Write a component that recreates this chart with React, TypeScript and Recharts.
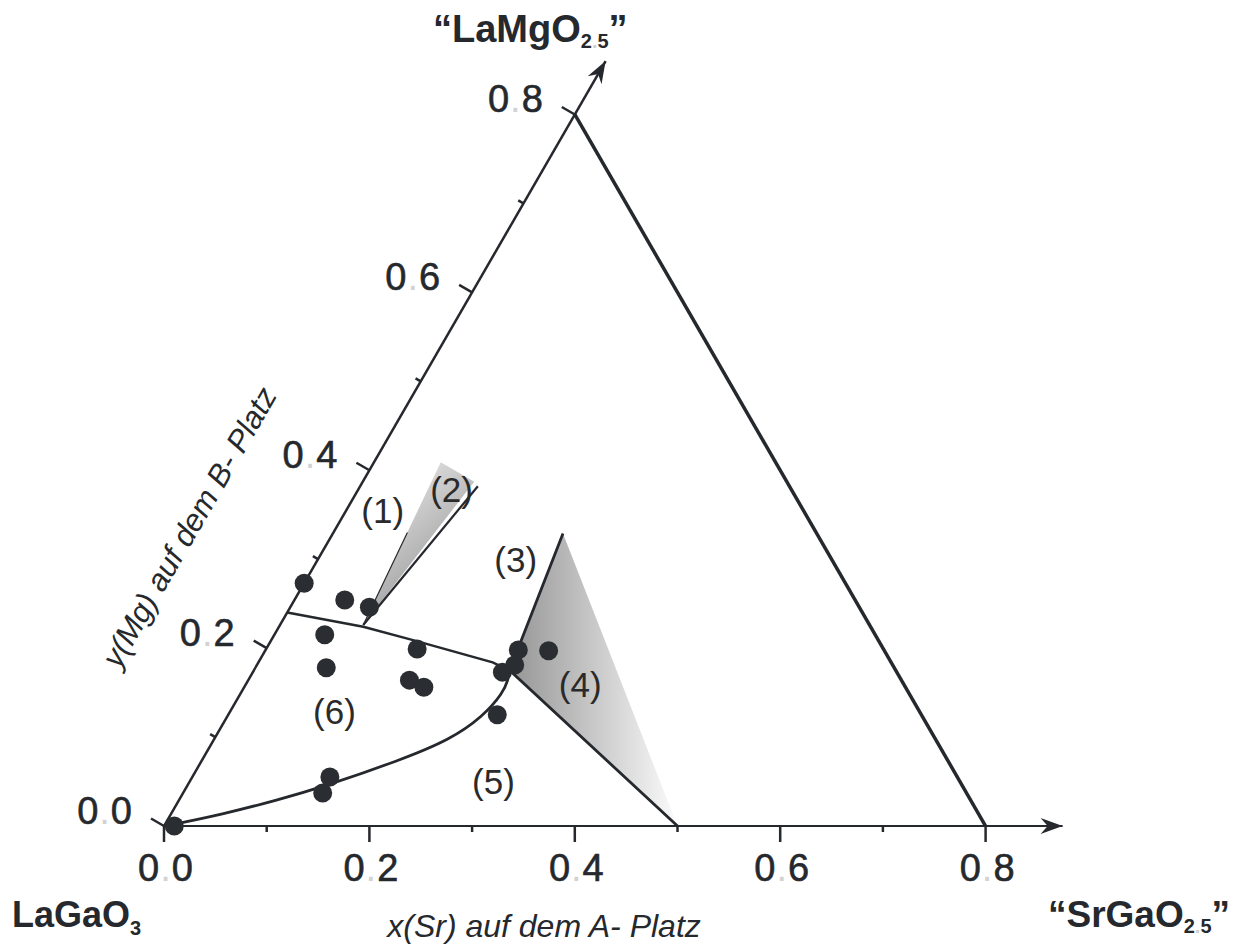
import React from 'react';
import { ScatterChart, Scatter, XAxis, YAxis, Customized } from 'recharts';

// Composition diagram La(1-x)Sr(x)Ga(1-y)Mg(y)O3: ternary-style plot with a 60° Mg axis.
const H = Math.sqrt(3) / 2;
const INK = '#25282c';
const FONT = '"Liberation Sans", Arial, sans-serif';

// Measured samples: x(Sr) on the A site, y(Mg) on the B site
const sampleSr = [0.01, 0.0, 0.049, 0.077, 0.049, 0.069, 0.147, 0.157, 0.175, 0.243, 0.251, 0.246, 0.276, 0.262, 0.134, 0.136];
const sampleMg = [0.0, 0.273, 0.254, 0.246, 0.215, 0.178, 0.199, 0.164, 0.156, 0.173, 0.181, 0.198, 0.197, 0.125, 0.055, 0.037];

// Boundary between (6) and (1)/(3)
const upperSr = [0.0, 0.082, 0.138, 0.228, 0.249];
const upperMg = [0.24, 0.224, 0.209, 0.184, 0.175];

// Boundary between (6) and (5)
const curveSr = [0.005, 0.05, 0.0955, 0.133, 0.193, 0.23, 0.249, 0.2553, 0.253, 0.249];
const curveMg = [0.001, 0.013, 0.029, 0.044, 0.074, 0.097, 0.123, 0.1495, 0.164, 0.175];

// Region (2): shaded wedge and its edges
const wedgeSr = [0.081, 0.065, 0.1085];
const wedgeMg = [0.226, 0.409, 0.387];
const wedgeRightSr = [0.081, 0.1146];
const wedgeRightMg = [0.226, 0.382];
const wedgeLeftSr = [0.081, 0.072];
const wedgeLeftMg = [0.226, 0.33];

// Region (4): shaded triangle and its drawn edges
const region4Sr = [0.249, 0.224, 0.5];
const region4Mg = [0.175, 0.329, 0.0];
const edge4Sr = [0.224, 0.249, 0.5];
const edge4Mg = [0.329, 0.175, 0.0];

// Outer edge LaMgO2.5 - SrGaO2.5
const outerSr = [0.0, 0.8];
const outerMg = [0.8, 0.0];

// Axes
const xAxisEnd = 0.875;
const yAxisEnd = 0.86;
const tickValues = [0, 0.1, 0.2, 0.3, 0.4, 0.5, 0.6, 0.7, 0.8];
const tickText = ['0.0', '0.2', '0.4', '0.6', '0.8'];

// Region labels
const regionNames = ['(1)', '(2)', '(3)', '(4)', '(5)', '(6)'];
const regionSr = [0.0355, 0.091, 0.193, 0.326, 0.296, 0.102];
const regionMg = [0.355, 0.378, 0.299, 0.1585, 0.0495, 0.128];

const toCart = (sr: number[], mg: number[]) =>
  sr.map((s, i) => ({ X: s + mg[i] / 2, Y: mg[i] * H }));

const noShape = () => <g />;

const fillShape = (fill: string) => (p: any) => {
  const pts = (p.points || []) as { x: number; y: number }[];
  const d = pts.map((q, i) => `${i ? 'L' : 'M'}${q.x},${q.y}`).join(' ') + ' Z';
  return <path d={d} fill={fill} stroke="none" />;
};

const TickLabel = ({ x, y, anchor, text }: { x: number; y: number; anchor: string; text: string }) => {
  const [a, b] = text.split('.');
  return (
    <text
      x={x}
      y={y}
      textAnchor={anchor as any}
      fontFamily={FONT}
      fontSize={38}
      fill={INK}
      stroke={INK}
      strokeWidth={0.6}
      letterSpacing={1}
    >
      <tspan>{a}</tspan>
      <tspan fill="#d2d2d2" stroke="none">.</tspan>
      <tspan>{b}</tspan>
    </text>
  );
};

const XTick = (props: any) => {
  const { x, y, payload } = props;
  const idx = Math.round(payload.value * 10);
  const major = idx % 2 === 0;
  return (
    <g>
      <line x1={x} y1={y} x2={x} y2={y + (major ? 16 : 6)} stroke={INK} strokeWidth={2.5} />
      {major && <TickLabel x={x + 2} y={y + 55} anchor="middle" text={tickText[idx / 2]} />}
    </g>
  );
};

const YTick = (props: any) => {
  const { cx, cy, payload } = props;
  const major = payload.major;
  const len = major ? 15 : 6;
  return (
    <g>
      <line x1={cx} y1={cy} x2={cx - len * H} y2={cy - len * 0.5} stroke={INK} strokeWidth={2.5} />
      {major && <TickLabel x={cx - 31} y={cy - 2} anchor="end" text={payload.label} />}
    </g>
  );
};

const Arrow = (props: any) => {
  const { cx, cy, payload } = props;
  return (
    <path
      transform={`translate(${cx},${cy}) rotate(${payload.angle})`}
      d="M0,0 L-22,-8 L-15,0 L-22,8 Z"
      fill={INK}
    />
  );
};

const Dot = (props: any) => <circle cx={props.cx} cy={props.cy} r={9.5} fill="#2a2d31" />;

const RegionLabel = (props: any) => (
  <text x={props.cx} y={props.cy} dy="0.35em" textAnchor="middle" fontFamily={FONT} fontSize={35} fill="#2a2a2a">
    {props.payload.name}
  </text>
);

const Titles = () => (
  <g fontFamily={FONT} fill={INK}>
    <text x={425} y={34} fontSize={38} fontWeight="bold">
      {'\u201CLaMgO'}
      <tspan fontSize={20} dy={6}>2</tspan>
      <tspan fontSize={20} fill="#cfcfcf">.</tspan>
      <tspan fontSize={20}>5</tspan>
      <tspan dy={-6}>{'\u201D'}</tspan>
    </text>
    <text x={4} y={919} fontSize={36} fontWeight="bold">
      LaGaO
      <tspan fontSize={20} dy={8}>3</tspan>
    </text>
    <text x={1040} y={919} fontSize={37} fontWeight="bold">
      {'\u201CSrGaO'}
      <tspan fontSize={20} dy={6}>2</tspan>
      <tspan fontSize={20} fill="#cfcfcf">.</tspan>
      <tspan fontSize={20}>5</tspan>
      <tspan dy={-6}>{'\u201D'}</tspan>
    </text>
    <text x={536} y={929} textAnchor="middle" fontSize={32} fontStyle="italic">
      x(Sr) auf dem A- Platz
    </text>
    <text transform="translate(181,519) rotate(-60)" textAnchor="middle" dy="0.35em" fontSize={31} fontStyle="italic">
      y(Mg) auf dem B- Platz
    </text>
  </g>
);

export default function App() {
  const yTicks = tickValues.map((v, i) => ({
    X: v / 2,
    Y: v * H,
    major: i % 2 === 0,
    label: i % 2 === 0 ? tickText[i / 2] : '',
  }));
  const arrows = [
    { X: xAxisEnd, Y: 0, angle: 0 },
    { X: yAxisEnd / 2, Y: yAxisEnd * H, angle: -60 },
  ];
  const regions = regionNames.map((name, i) => ({
    name,
    X: regionSr[i] + regionMg[i] / 2,
    Y: regionMg[i] * H,
  }));
  const lineStyle = (w: number) => ({ stroke: INK, strokeWidth: w, fill: 'none' });

  return (
    <ScatterChart
      width={1234}
      height={939}
      margin={{ top: 52.885, right: 179.375, bottom: 120, left: 156 }}
    >
      <defs>
        <linearGradient id="gradWedge" x1="0.2" y1="0" x2="0.8" y2="1">
          <stop offset="0" stopColor="#eeeeee" />
          <stop offset="1" stopColor="#858585" />
        </linearGradient>
        <linearGradient id="gradRegion4" x1="0" y1="0" x2="1" y2="0">
          <stop offset="0" stopColor="#959595" />
          <stop offset="1" stopColor="#fbfbfb" />
        </linearGradient>
      </defs>
      <XAxis
        type="number"
        dataKey="X"
        domain={[0, xAxisEnd]}
        ticks={tickValues}
        interval={0}
        height={1}
        tickSize={0}
        tickMargin={0}
        tickLine={false}
        axisLine={{ stroke: INK, strokeWidth: 2.2 }}
        tick={XTick}
      />
      <YAxis type="number" dataKey="Y" domain={[0, 0.745]} hide width={0} />

      <Scatter data={toCart(region4Sr, region4Mg)} shape={noShape} line={fillShape('url(#gradRegion4)')} isAnimationActive={false} />
      <Scatter data={toCart(wedgeSr, wedgeMg)} shape={noShape} line={fillShape('url(#gradWedge)')} isAnimationActive={false} />

      <Scatter data={toCart([0, 0], [0, yAxisEnd])} shape={noShape} line={lineStyle(2.5)} isAnimationActive={false} />
      <Scatter data={toCart(outerSr, outerMg)} shape={noShape} line={lineStyle(3.5)} isAnimationActive={false} />
      <Scatter data={toCart(upperSr, upperMg)} shape={noShape} line={lineStyle(2.5)} isAnimationActive={false} />
      <Scatter data={toCart(curveSr, curveMg)} shape={noShape} line={lineStyle(2.8)} lineJointType="basis" isAnimationActive={false} />
      <Scatter data={toCart(edge4Sr, edge4Mg)} shape={noShape} line={lineStyle(2.8)} isAnimationActive={false} />
      <Scatter data={toCart(wedgeRightSr, wedgeRightMg)} shape={noShape} line={lineStyle(2.2)} isAnimationActive={false} />
      <Scatter data={toCart(wedgeLeftSr, wedgeLeftMg)} shape={noShape} line={lineStyle(1.2)} isAnimationActive={false} />

      <Scatter data={yTicks} shape={YTick} isAnimationActive={false} />
      <Scatter data={arrows} shape={Arrow} isAnimationActive={false} />
      <Scatter data={toCart(sampleSr, sampleMg)} shape={Dot} isAnimationActive={false} />
      <Scatter data={regions} shape={RegionLabel} isAnimationActive={false} />
      <Customized component={Titles} />
    </ScatterChart>
  );
}
